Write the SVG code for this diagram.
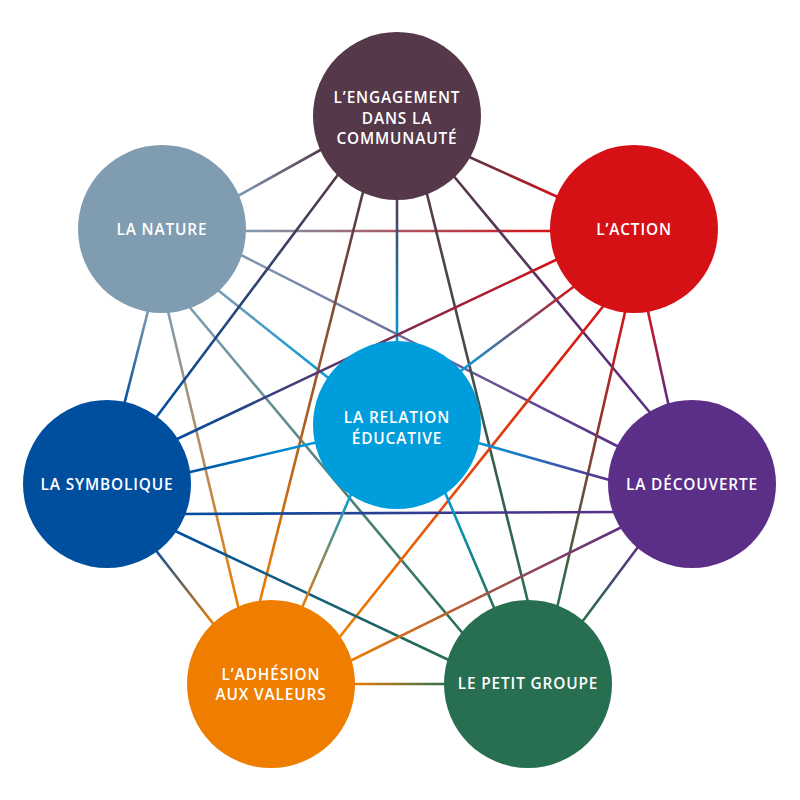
<svg xmlns="http://www.w3.org/2000/svg" width="800" height="800" viewBox="0 0 800 800">
<style>
.bg{fill:#ffffff}
.cn line{stroke-width:2.6;fill:none}
.lbl{font-family:"Open Sans","Liberation Sans",sans-serif;font-weight:600;font-size:15.4px;letter-spacing:0.85px;fill:#ffffff;text-anchor:middle}
.sE{stop-color:#553849}.sA{stop-color:#d51116}.sN{stop-color:#7f9cb1}.sS{stop-color:#004f9f}
.sD{stop-color:#5b2e87}.sH{stop-color:#ee7d00}.sG{stop-color:#286f51}.sR{stop-color:#009ddc}
.fE{fill:#553849}.fA{fill:#d51116}.fN{fill:#7f9cb1}.fS{fill:#004f9f}
.fD{fill:#5b2e87}.fH{fill:#ee7d00}.fG{fill:#286f51}.fR{fill:#009ddc}
</style>
<defs>
<linearGradient id="g1" gradientUnits="userSpaceOnUse" x1="236" y1="197" x2="324" y2="148"><stop offset="0" class="sN"/><stop offset="1" class="sE"/></linearGradient>
<linearGradient id="g2" gradientUnits="userSpaceOnUse" x1="240" y1="231" x2="556" y2="231"><stop offset="0" class="sN"/><stop offset="1" class="sA"/></linearGradient>
<linearGradient id="g3" gradientUnits="userSpaceOnUse" x1="467" y1="156" x2="560" y2="198"><stop offset="0" class="sE"/><stop offset="1" class="sA"/></linearGradient>
<linearGradient id="g4" gradientUnits="userSpaceOnUse" x1="214" y1="287" x2="331" y2="380"><stop offset="0" class="sN"/><stop offset="1" class="sR"/></linearGradient>
<linearGradient id="g5" gradientUnits="userSpaceOnUse" x1="239" y1="254" x2="621" y2="448"><stop offset="0" class="sN"/><stop offset="1" class="sD"/></linearGradient>
<linearGradient id="g6" gradientUnits="userSpaceOnUse" x1="149" y1="307" x2="124" y2="405"><stop offset="0" class="sN"/><stop offset="1" class="sS"/></linearGradient>
<linearGradient id="g7" gradientUnits="userSpaceOnUse" x1="167" y1="307" x2="239" y2="610"><stop offset="0" class="sN"/><stop offset="1" class="sH"/></linearGradient>
<linearGradient id="g8" gradientUnits="userSpaceOnUse" x1="187" y1="304" x2="465" y2="636"><stop offset="0" class="sN"/><stop offset="1" class="sG"/></linearGradient>
<linearGradient id="g9" gradientUnits="userSpaceOnUse" x1="340" y1="172" x2="155" y2="419"><stop offset="0" class="sE"/><stop offset="1" class="sS"/></linearGradient>
<linearGradient id="g10" gradientUnits="userSpaceOnUse" x1="364" y1="188" x2="259" y2="605"><stop offset="0" class="sE"/><stop offset="1" class="sH"/></linearGradient>
<linearGradient id="g11" gradientUnits="userSpaceOnUse" x1="397" y1="193" x2="397" y2="347"><stop offset="0" class="sE"/><stop offset="1" class="sR"/></linearGradient>
<linearGradient id="g12" gradientUnits="userSpaceOnUse" x1="426" y1="190" x2="529" y2="606"><stop offset="0" class="sE"/><stop offset="1" class="sG"/></linearGradient>
<linearGradient id="g13" gradientUnits="userSpaceOnUse" x1="452" y1="174" x2="652" y2="415"><stop offset="0" class="sE"/><stop offset="1" class="sD"/></linearGradient>
<linearGradient id="g14" gradientUnits="userSpaceOnUse" x1="576" y1="285" x2="458" y2="373"><stop offset="0" class="sA"/><stop offset="1" class="sR"/></linearGradient>
<linearGradient id="g15" gradientUnits="userSpaceOnUse" x1="560" y1="258" x2="175" y2="440"><stop offset="0" class="sA"/><stop offset="1" class="sS"/></linearGradient>
<linearGradient id="g16" gradientUnits="userSpaceOnUse" x1="605" y1="304" x2="338" y2="639"><stop offset="0" class="sA"/><stop offset="1" class="sH"/></linearGradient>
<linearGradient id="g17" gradientUnits="userSpaceOnUse" x1="626" y1="308" x2="557" y2="608"><stop offset="0" class="sA"/><stop offset="1" class="sG"/></linearGradient>
<linearGradient id="g18" gradientUnits="userSpaceOnUse" x1="647" y1="307" x2="669" y2="407"><stop offset="0" class="sA"/><stop offset="1" class="sD"/></linearGradient>
<linearGradient id="g19" gradientUnits="userSpaceOnUse" x1="186" y1="473" x2="318" y2="442"><stop offset="0" class="sS"/><stop offset="1" class="sR"/></linearGradient>
<linearGradient id="g20" gradientUnits="userSpaceOnUse" x1="180" y1="514" x2="618" y2="512"><stop offset="0" class="sS"/><stop offset="1" class="sD"/></linearGradient>
<linearGradient id="g21" gradientUnits="userSpaceOnUse" x1="154" y1="548" x2="215" y2="626"><stop offset="0" class="sS"/><stop offset="1" class="sH"/></linearGradient>
<linearGradient id="g22" gradientUnits="userSpaceOnUse" x1="173" y1="530" x2="453" y2="662"><stop offset="0" class="sS"/><stop offset="1" class="sG"/></linearGradient>
<linearGradient id="g23" gradientUnits="userSpaceOnUse" x1="475" y1="442" x2="613" y2="481"><stop offset="0" class="sR"/><stop offset="1" class="sD"/></linearGradient>
<linearGradient id="g24" gradientUnits="userSpaceOnUse" x1="444" y1="490" x2="495" y2="610"><stop offset="0" class="sR"/><stop offset="1" class="sG"/></linearGradient>
<linearGradient id="g25" gradientUnits="userSpaceOnUse" x1="352" y1="492" x2="301" y2="610"><stop offset="0" class="sR"/><stop offset="1" class="sH"/></linearGradient>
<linearGradient id="g26" gradientUnits="userSpaceOnUse" x1="641" y1="543" x2="582" y2="622"><stop offset="0" class="sD"/><stop offset="1" class="sG"/></linearGradient>
<linearGradient id="g27" gradientUnits="userSpaceOnUse" x1="626" y1="525" x2="348" y2="662"><stop offset="0" class="sD"/><stop offset="1" class="sH"/></linearGradient>
<linearGradient id="g28" gradientUnits="userSpaceOnUse" x1="350" y1="684" x2="449" y2="684"><stop offset="0" class="sH"/><stop offset="1" class="sG"/></linearGradient>
</defs>
<rect class="bg" x="0" y="0" width="800" height="800"/>
<g id="connectors" class="cn">
<line x1="236" y1="197" x2="324" y2="148" stroke="url(#g1)"/>
<line x1="240" y1="231" x2="556" y2="231" stroke="url(#g2)"/>
<line x1="467" y1="156" x2="560" y2="198" stroke="url(#g3)"/>
<line x1="214" y1="287" x2="331" y2="380" stroke="url(#g4)"/>
<line x1="239" y1="254" x2="621" y2="448" stroke="url(#g5)"/>
<line x1="149" y1="307" x2="124" y2="405" stroke="url(#g6)"/>
<line x1="167" y1="307" x2="239" y2="610" stroke="url(#g7)"/>
<line x1="187" y1="304" x2="465" y2="636" stroke="url(#g8)"/>
<line x1="340" y1="172" x2="155" y2="419" stroke="url(#g9)"/>
<line x1="364" y1="188" x2="259" y2="605" stroke="url(#g10)"/>
<line x1="397" y1="193" x2="397" y2="347" stroke="url(#g11)"/>
<line x1="426" y1="190" x2="529" y2="606" stroke="url(#g12)"/>
<line x1="452" y1="174" x2="652" y2="415" stroke="url(#g13)"/>
<line x1="576" y1="285" x2="458" y2="373" stroke="url(#g14)"/>
<line x1="560" y1="258" x2="175" y2="440" stroke="url(#g15)"/>
<line x1="605" y1="304" x2="338" y2="639" stroke="url(#g16)"/>
<line x1="626" y1="308" x2="557" y2="608" stroke="url(#g17)"/>
<line x1="647" y1="307" x2="669" y2="407" stroke="url(#g18)"/>
<line x1="186" y1="473" x2="318" y2="442" stroke="url(#g19)"/>
<line x1="180" y1="514" x2="618" y2="512" stroke="url(#g20)"/>
<line x1="154" y1="548" x2="215" y2="626" stroke="url(#g21)"/>
<line x1="173" y1="530" x2="453" y2="662" stroke="url(#g22)"/>
<line x1="475" y1="442" x2="613" y2="481" stroke="url(#g23)"/>
<line x1="444" y1="490" x2="495" y2="610" stroke="url(#g24)"/>
<line x1="352" y1="492" x2="301" y2="610" stroke="url(#g25)"/>
<line x1="641" y1="543" x2="582" y2="622" stroke="url(#g26)"/>
<line x1="626" y1="525" x2="348" y2="662" stroke="url(#g27)"/>
<line x1="350" y1="684" x2="449" y2="684" stroke="url(#g28)"/>
</g>
<g id="engagement">
<circle class="fE" cx="397" cy="116" r="84"/>
<text class="lbl" x="397" y="103">L’ENGAGEMENT</text>
<text class="lbl" x="397" y="124">DANS LA</text>
<text class="lbl" x="397" y="144">COMMUNAUTÉ</text>
</g>
<g id="action">
<circle class="fA" cx="634" cy="229" r="84"/>
<text class="lbl" x="634" y="235">L’ACTION</text>
</g>
<g id="nature">
<circle class="fN" cx="162" cy="229" r="84"/>
<text class="lbl" x="162" y="235">LA NATURE</text>
</g>
<g id="symbolique">
<circle class="fS" cx="107" cy="484" r="84"/>
<text class="lbl" x="107" y="489.5">LA SYMBOLIQUE</text>
</g>
<g id="decouverte">
<circle class="fD" cx="692" cy="484" r="84"/>
<text class="lbl" x="692" y="489.5">LA DÉCOUVERTE</text>
</g>
<g id="relation">
<circle class="fR" cx="397" cy="425" r="84"/>
<text class="lbl" x="397" y="423">LA RELATION</text>
<text class="lbl" x="397" y="443.5">ÉDUCATIVE</text>
</g>
<g id="adhesion">
<circle class="fH" cx="271" cy="684" r="84"/>
<text class="lbl" x="271" y="679.5">L’ADHÉSION</text>
<text class="lbl" x="271" y="699.5">AUX VALEURS</text>
</g>
<g id="petit-groupe">
<circle class="fG" cx="528" cy="684" r="84"/>
<text class="lbl" x="528" y="688.5">LE PETIT GROUPE</text>
</g>
</svg>
